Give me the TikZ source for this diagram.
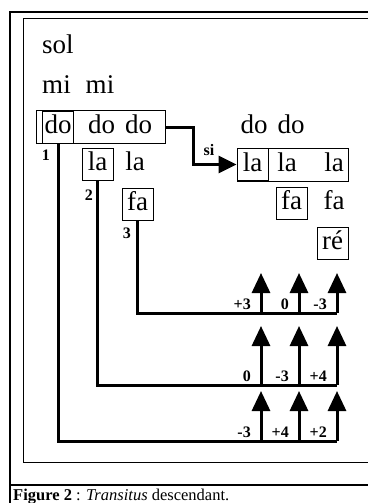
\documentclass[tikz,border=0pt]{standalone}
\usepackage{fontspec}
\setmainfont{Liberation Serif}
\usetikzlibrary{calc,positioning,arrows.meta}
\tikzset{syl/.style={inner xsep=0pt,inner ysep=3.5pt,text height=19pt,text depth=6pt,font=\fontsize{27}{30}\selectfont},
sbox/.style={syl,draw,line width=0.9pt,minimum width=31pt,inner xsep=2pt},
chord/.style={draw,line width=0.9pt,minimum height=33pt,inner sep=0pt},
num/.style={inner sep=0pt,font=\fontsize{16}{18}\selectfont\bfseries},
conn/.style={line width=3pt},
up/.style={line width=3pt,-{Triangle[length=20pt,width=18pt]}}}

\begin{document}
\begin{tikzpicture}[x=1pt,y=-1pt]
	\useasboundingbox (0,0) rectangle (368,503);
	% frames
	\draw[line width=2.8pt] (10,503) -- (10,12) -- (368,12);
	\draw[line width=2.8pt] (10,485) -- (368,485);
	\draw[line width=0.9pt] (368,18) -- (23,18) -- (23,462) -- (368,462);
	% first chord
	\node[syl] (sol) at (58,47) {sol};
	\node[syl] (mi1) at (56.5,87) {mi};
	\node[syl] (mi2) at (100,87) {mi};
	\node[chord,minimum width=129pt] (top) at (100.5,127) {};
	\node[sbox] (do1) at (58,127) {do};
	\node[syl] (do2) at (101.5,127) {do};
	\node[syl] (do3) at (138.5,127) {do};
	\node[sbox] (la1) at (97.5,164) {la};
	\node[syl] (la2) at (135,164) {la};
	\node[sbox] (fa1) at (137.5,204) {fa};
	\node[num,anchor=north east] (n1) at (50,150) {1};
	\node[num,anchor=north east] (n2) at (93,190) {2};
	\node[num,anchor=north east] (n3) at (131,228) {3};
	% second chord
	\node[syl] (do4) at (254,127) {do};
	\node[syl] (do5) at (291,127) {do};
	\node[chord,minimum width=111pt] (bot) at (292.5,164.5) {};
	\node[sbox] (la3) at (252.5,164.5) {la};
	\node[syl] (la4) at (287,164.5) {la};
	\node[syl] (la5) at (334,164.5) {la};
	\node[sbox] (fa2) at (291.5,203) {fa};
	\node[syl] (fa3) at (334,203) {fa};
	\node[sbox] (re) at (332.5,243) {ré};
	\draw[conn,-{Triangle[length=18pt,width=17pt]}] (top.east) -- ++(28,0) |- (la3.west);
	\node[num] (si) at (209,150) {si};
	% intervals
	\foreach \g/\l/\t/\a/\b/\c in {1/313/273/+3/0/-3,2/385/326/0/-3/+4,3/441/391/-3/+4/+2}{
		\coordinate (p\g a) at (261,\l);
		\coordinate (p\g b) at (299,\l);
		\coordinate (p\g c) at (337,\l);
		\draw[up] (p\g a) -- (261,\t);
		\draw[up] (p\g b) -- (299,\t);
		\draw[up] (p\g c) -- (337,\t);
		\node[num,anchor=south east] (v\g a) at (251,\l-3) {\a};
		\node[num,anchor=south east] (v\g b) at (289,\l-3) {\b};
		\node[num,anchor=south east] (v\g c) at (327,\l-3) {\c};
	}
	\draw[conn] (fa1.south) |- (p1c);
	\draw[conn] (la1.south) |- (p2c);
	\draw[conn] (do1.south) |- (p3c);
	% caption
	\node[anchor=base west,inner sep=0pt,font=\fontsize{16.5}{18}\selectfont] (cap) at (13,500) {\textbf{Figure 2} : \textit{Transitus} descendant.};
\end{tikzpicture}
\end{document}
